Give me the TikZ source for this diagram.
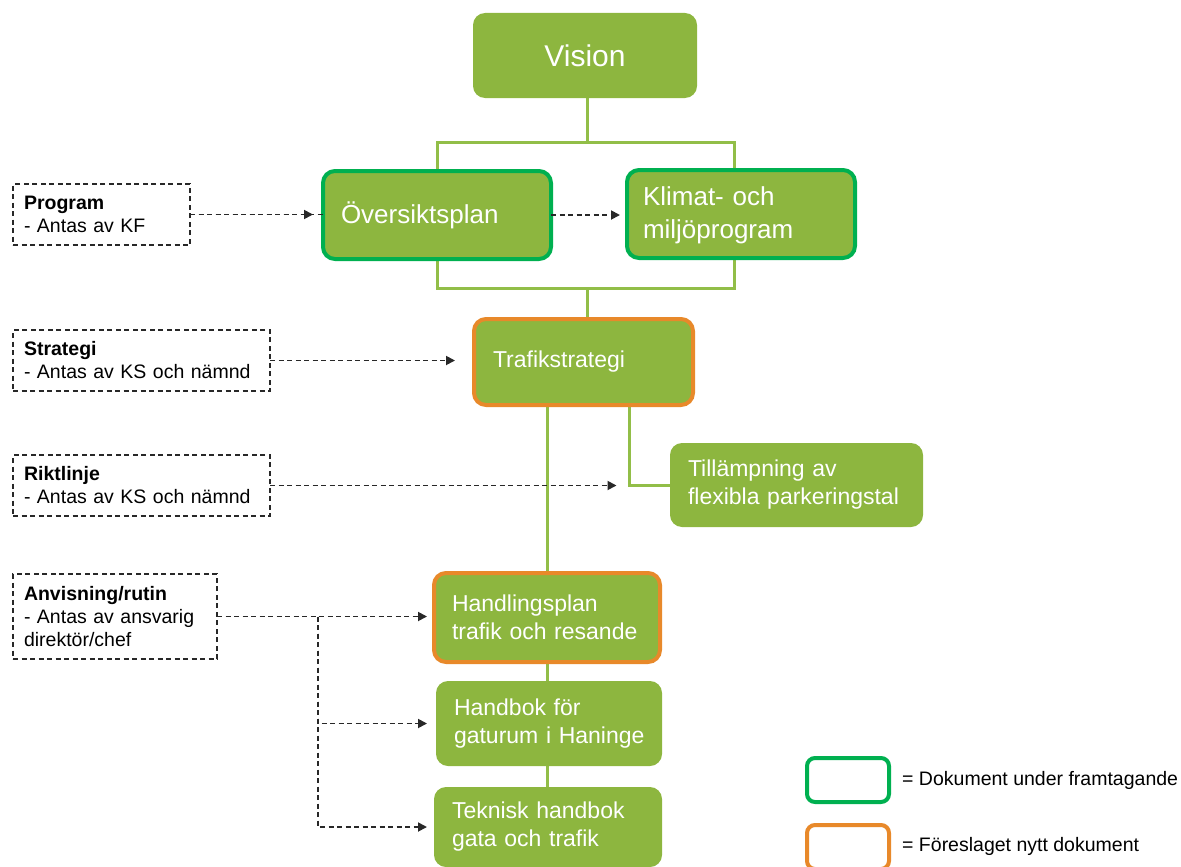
\documentclass[tikz,border=0pt]{standalone}
\usepackage{fontspec}
\setmainfont{Liberation Sans}
\usetikzlibrary{arrows.meta,calc,backgrounds}
\definecolor{fillg}{RGB}{141,182,63}
\definecolor{lineg}{RGB}{146,190,72}
\definecolor{bordg}{RGB}{0,176,80}
\definecolor{bordo}{RGB}{232,137,42}
\definecolor{dashk}{RGB}{40,40,40}
\begin{document}
\begin{tikzpicture}[x=1pt,y=-1pt,
 box/.style={rectangle, rounded corners=12pt, fill=fillg, text=white, align=left, inner xsep=18pt, inner ysep=0pt, outer sep=0pt, anchor=north west, font=\fontsize{23}{28}\selectfont},
 newdoc/.style={draw=bordg, line width=4pt},
 propdoc/.style={draw=bordo, line width=4pt},
 note/.style={rectangle, draw=dashk, dash pattern=on 5pt off 3.5pt, line width=1.4pt, align=left, anchor=north west, inner xsep=11pt, inner ysep=0pt, outer sep=0pt, font=\fontsize{19.5}{23}\selectfont},
 conn/.style={draw=lineg, line width=3pt},
 dashline/.style={draw=dashk, line width=1.8pt, dash pattern=on 5pt off 3.5pt},
 dasharrow/.style={dashline, -{Triangle[length=9pt,width=9pt]}},
 legbox/.style={rectangle, rounded corners=8pt, fill=white, line width=4pt, minimum width=82pt, minimum height=44pt, anchor=north west, outer sep=0pt},
 legtext/.style={anchor=west, font=\fontsize{19.5}{23}\selectfont, inner sep=0pt}
]
\useasboundingbox (0,0) rectangle (1181,867);

% main boxes
\node[box, font=\fontsize{30}{34}\selectfont, align=center, minimum width=224pt, minimum height=85pt, text width=188pt] (vis) at (473,13) {Vision};
\node[box, newdoc, font=\fontsize{26}{32}\selectfont, minimum width=228pt, minimum height=88pt, text width=192pt] (ov) at (323,171) {Översiktsplan};
\node[box, newdoc, font=\fontsize{26}{33}\selectfont, inner xsep=16pt, minimum width=228pt, minimum height=88pt, text width=196pt] (kl) at (627,170) {\vphantom{Äg}Klimat- och\\miljöprogram\vphantom{Äg}};
\node[box, propdoc, inner xsep=19pt, minimum width=219pt, minimum height=86pt, text width=181pt] (traf) at (474,319) {Trafikstrategi};
\node[box, minimum width=253pt, minimum height=84pt, text width=217pt] (til) at (670,443) {Tillämpning av\\\mbox{flexibla parkeringstal}};
\node[box, propdoc, minimum width=226pt, minimum height=89pt, text width=190pt] (hp) at (434,573) {Handlingsplan\\\mbox{trafik och resande}};
\node[box, minimum width=226pt, minimum height=85pt, text width=190pt] (hb) at (436,681) {Handbok för\\\mbox{gaturum i Haninge}};
\node[box, minimum width=228pt, minimum height=80pt, text width=192pt] (tek) at (434,787) {\mbox{Teknisk handbok}\\\mbox{gata och trafik}};

% notes
\node[note, minimum width=177pt, minimum height=61pt, text width=155pt] (prog) at (13,184) {\textbf{Program}\\- Antas av KF};
\node[note, minimum width=257pt, minimum height=61pt, text width=235pt] (strat) at (13,330) {\textbf{Strategi}\\\mbox{- Antas av KS och nämnd}};
\node[note, minimum width=257pt, minimum height=61pt, text width=235pt] (rikt) at (13,455) {\textbf{Riktlinje}\\\mbox{- Antas av KS och nämnd}};
\node[note, minimum width=204pt, minimum height=85pt, text width=182pt] (anv) at (13,574) {\textbf{Anvisning/rutin}\\\mbox{- Antas av ansvarig}\\direktör/chef};

% legend
\node[legbox, draw=bordg] (lg1) at (807,758) {};
\node[legbox, draw=bordo] (lg2) at (807,825) {};
\node[legtext] (lt1) at (902,780) {= Dokument under framtagande};
\node[legtext] (lt2) at (902,846) {= Föreslaget nytt dokument};

% green connectors
\begin{scope}[on background layer]
\coordinate (topbar) at (587,142);
\coordinate (botbar) at (587,288);
\draw[conn] (vis.south -| topbar) -- (topbar);
\draw[conn] (ov.north) |- (topbar) -| ($(kl.north)+(-7,0)$);
\draw[conn] (ov.south) |- (botbar) -| ($(kl.south)+(-7,0)$);
\draw[conn] (botbar) -- (botbar |- traf.north);
\draw[conn] (traf.south -| hp.north) -- (hp.north);
\draw[conn] ($(traf.south)+(46,0)$) |- (til.west);
\draw[conn] (hp.south) -- (hp.south |- hb.north);
\draw[conn] (hp.south |- hb.south) -- (hp.south |- tek.north);
\end{scope}
\coordinate (tilcorner) at ($(traf.south)+(46,0)$);

% dashed arrows
\draw[dashline] (prog.east) -- (prog.east -| ov.west);
\draw[dasharrow, shorten >=10pt] (prog.east) -- (prog.east -| ov.west);
\draw[dasharrow, shorten >=7pt] (ov.east) -- (ov.east -| kl.west);
\draw[dasharrow, shorten >=19pt] (strat.east) -- (strat.east -| traf.west);
\draw[dasharrow, shorten >=13pt] (rikt.east) -- (rikt.east -| tilcorner);
\draw[dasharrow, shorten >=7pt] (anv.east) -- (anv.east -| hp.west);
\path (anv.east) -- ++(101,0) coordinate (j);
\draw[dasharrow, shorten >=9pt] (j) |- (hb.west);
\draw[dasharrow, shorten >=7pt] (j) |- (tek.west);
\end{tikzpicture}
\end{document}
